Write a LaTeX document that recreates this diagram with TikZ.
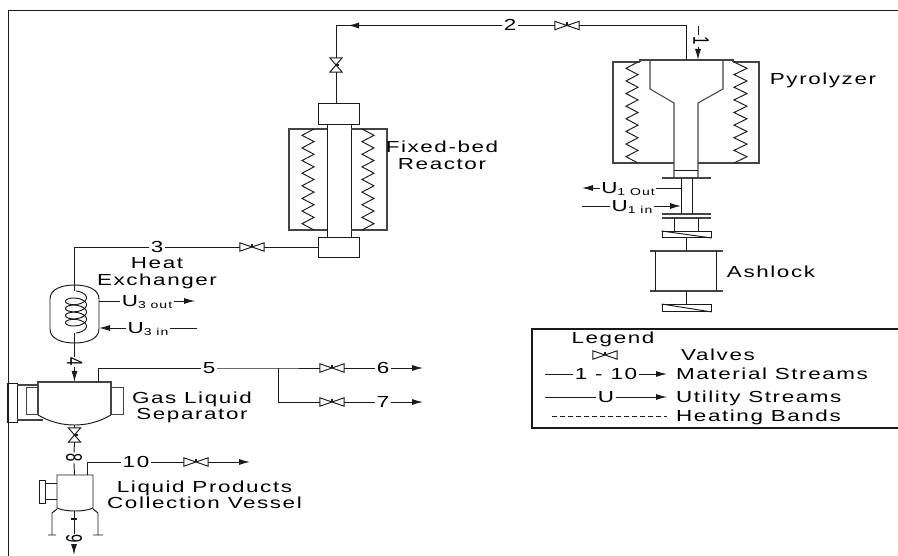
\documentclass[tikz,border=0pt]{standalone}
\usepackage{fontspec}
\usepackage{graphicx}
\usetikzlibrary{arrows.meta}
\setmainfont[FakeStretch=1.4,LetterSpace=10]{Liberation Sans}
\newfontfamily\plainf{Liberation Sans}
\definecolor{ink}{HTML}{1A1A1A}
\definecolor{wallgrey}{HTML}{444444}
\newcommand{\lowsub}[1]{\raisebox{-2.5pt}{\fontsize{10}{10}\selectfont #1}}
\newcommand{\sidenum}[1]{\scalebox{1.5}[1]{\rotatebox{-90}{\plainf\fontsize{15}{15}\selectfont #1}}}
\tikzset{
  line/.style={draw=ink,line width=0.95pt},
  wall/.style={draw=wallgrey,line width=1.05pt},
  flange/.style={draw=wallgrey,line width=2.4pt},
  arrowed/.style={line,-{Latex[length=11pt,width=6pt]}},
  stream/.style={inner sep=1.5pt,text height=11pt,text depth=0pt,font=\fontsize{16}{16}\selectfont,text=black},
  sidelabel/.style={inner sep=1pt,text=black},
  caption/.style={inner sep=0pt,anchor=base,font=\fontsize{16}{16}\selectfont,text=black},
  hv/.style={inner sep=0pt,minimum width=24pt,minimum height=8pt},
  vv/.style={inner sep=0pt,minimum width=12pt,minimum height=14pt},
  smallbox/.style={draw=ink,line width=0.95pt,inner sep=0pt}
}
% horizontal valve: node name, x, y
\newcommand{\hvalve}[3]{%
  \node[hv] (#1) at (#2,#3) {};
  \draw[line] (#1.north west) -- (#1.south east) -- (#1.north east) -- (#1.south west) -- cycle;
  \draw[line width=1.6pt,ink] (#1.center) -- ++(0,-3);
}
% vertical valve: node name, x, y
\newcommand{\vvalve}[3]{%
  \node[vv] (#1) at (#2,#3) {};
  \draw[line] (#1.north west) -- (#1.north east) -- (#1.south west) -- (#1.south east) -- cycle;
  \draw[line width=1.6pt,ink] (#1.center) -- ++(3,0);
}
% zigzag: start x, other x, top y, bottom y, segments (even)
\newcommand{\zigzag}[5]{%
  \draw[line] (#1,#3)
  \foreach \i in {1,...,#5} {
    -- ({ifthenelse(isodd(\i),#2,#1)},{#3+(#4-#3)*\i/#5})
  };
}
% screw feeder box: name, y top, y bottom
\newcommand{\feeder}[3]{%
  \node[smallbox,minimum width=49pt,minimum height={#3-#2},anchor=north] (#1) at (686.5,#2) {};
  \draw[line] (#1.north west) -- (#1.south east);
}
\begin{document}
\begin{tikzpicture}[x=1pt,y=-1pt]
\useasboundingbox (0,0) rectangle (898,556);
% frame
\draw[line] (8,556) -- (8,10.5) -- (898,10.5);

% ---------- Pyrolyzer
\draw[wall] (640,62) -- (613,62) -- (613,163) -- (674,163);
\draw[wall] (698,163) -- (759,163) -- (759,62) -- (733,62);
\draw[wall] (640,62) -- (640,60) -- (733,60) -- (733,62);
\draw[wall] (650,60) -- (650,89) -- (674,103) -- (674,178);
\draw[wall] (723,60) -- (723,89) -- (698,103) -- (698,178);
\draw[line] (674,170) -- (698,170);
\zigzag{638}{626}{62}{163}{16}
\zigzag{734}{747}{62}{163}{16}
\coordinate (lidtop) at (686,60);
\coordinate (feedtop) at (698,26);
\coordinate (feedlid) at (698,60);
\node[sidelabel] (l1) at (701,41) {\sidenum{1}};
\draw[line] (feedtop) -- (698,35);
\draw[arrowed] (698,47) -- (feedlid);
\node[caption] at (823,85) {Pyrolyzer};

% flanges and stem
\draw[flange] (662,178) -- (711,178);
\draw[flange] (662,214) -- (711,214);
\draw[wall] (662,218) -- (711,218);
\draw[line] (681,178) -- (681,214);
\draw[line] (692,178) -- (692,214);
\draw[line] (674,218) -- (674,231);
\draw[line] (698,218) -- (698,231);
\coordinate (u1oj) at (681,188);
\coordinate (u1ij) at (681,206);
\node[stream] (u1o) at (628,188) {U\lowsub{1 Out}};
\node[stream] (u1i) at (632,206) {U\lowsub{1 in}};
\coordinate (u1oend) at (582,188);
\coordinate (u1istart) at (582,206);
\draw[line] (u1oj) -- (u1o.east);
\draw[arrowed] (u1o.west) -- (u1oend);
\draw[line] (u1istart) -- (u1i.west);
\draw[arrowed] (u1i.east) -- (u1ij);

% ashlock
\feeder{fa}{231}{237}
\feeder{fb}{304}{311}
\draw[wall] (650,251) -- (723,251);
\draw[wall] (650,291) -- (723,291);
\draw[line] (655,251) -- (655,291);
\draw[line] (716,251) -- (716,291);
\draw[line] (fa.south) -- (686.5,251);
\draw[line] (686.5,291) -- (fb.north);
\node[caption] at (771,278) {Ashlock};

% ---------- Stream 2
\node[stream] (l2) at (510,25.5) {2};
\hvalve{v2}{567}{25.5}
\vvalve{v2b}{336}{65}
\coordinate (arrow2) at (348,25.5);
\coordinate (arrow2s) at (372,25.5);
\coordinate (corner2) at (336,25.5);
\draw[line] (lidtop) -- (686,25.5) -- (v2.east);
\draw[line] (v2.west) -- (l2.east);
\draw[line] (l2.west) -- (corner2) -- (v2b.north);
\draw[arrowed] (arrow2s) -- (arrow2);

% ---------- Fixed-bed reactor
\node[smallbox,minimum width=41pt,minimum height=21pt] (fbtop) at (338.5,113.5) {};
\node[smallbox,minimum width=41pt,minimum height=20pt] (fbbot) at (338.5,247) {};
\node[smallbox,minimum width=24pt,minimum height=113pt] (fbtube) at (339,180.5) {};
\draw[wall] (327,129) -- (289,129) -- (289,230) -- (327,230);
\draw[wall] (351,129) -- (387,129) -- (387,230) -- (351,230);
\zigzag{314}{302}{129}{230}{16}
\zigzag{362}{374}{129}{230}{16}
\draw[line] (v2b.south) -- (fbtop.north -| v2b.south);
\node[caption] at (442,153) {Fixed-bed};
\node[caption] at (442,170) {Reactor};

% ---------- Stream 3
\node[stream] (l3) at (157,247) {3};
\hvalve{v3}{252}{247}
\coordinate (coiltop) at (74,291);
\draw[line] (fbbot.west) -- (v3.east);
\draw[line] (v3.west) -- (l3.east);
\draw[line] (l3.west) -- (74,247) -- (coiltop);

% ---------- Heat exchanger
\node[caption] at (157,269) {Heat};
\node[caption] at (157,286) {Exchanger};
\draw[line] (50,299) .. controls (50,289) and (62,285) .. (74.5,285) .. controls (87,285) and (99,289) .. (99,299)
  -- (99,329) .. controls (99,339) and (87,343) .. (74.5,343) .. controls (62,343) and (50,339) .. (50,329) -- cycle;
\draw[line] plot[smooth,samples=109,domain=0:1620,variable=\t]
  ({76+10.5*sin(\t)},{296+\t/1620*32-5*cos(\t)});
\coordinate (hxout) at (99,301);
\coordinate (hxin) at (99,328);
\coordinate (u3oend) at (195,301);
\coordinate (u3istart) at (197,328);
\node[stream] (u3o) at (147,301) {U\lowsub{3 out}};
\node[stream] (u3i) at (148,328) {U\lowsub{3 in}};
\draw[line] (hxout) -- (u3o.west);
\draw[arrowed] (u3o.east) -- (u3oend);
\draw[line] (u3istart) -- (u3i.east);
\draw[arrowed] (u3i.west) -- (hxin);

% ---------- Stream 4
\node[sidelabel] (l4) at (74.5,362) {\sidenum{4}};
\coordinate (sepin) at (74.5,382);
\coordinate (coilbot) at (74.5,333);
\draw[line] (coilbot) -- (l4.north);
\draw[arrowed] (l4.south) -- (sepin);

% ---------- Gas liquid separator
\draw[wall] (38,415) -- (38,382) -- (111,382) -- (111,415);
\draw[line] (38,415) .. controls (50,422) and (62,425) .. (74.5,425) .. controls (87,425) and (99,422) .. (111,415);
\node[smallbox,draw=wallgrey,minimum width=12pt,minimum height=27pt] (nozl) at (32,400.5) {};
\node[smallbox,draw=wallgrey,minimum width=12pt,minimum height=27pt] (nozr) at (117,400.5) {};
\node[smallbox,minimum width=10pt,minimum height=39pt] (sepfl) at (12,402.5) {};
\draw[wall] (17,385) -- (38,385);
\draw[wall] (17,420) -- (43,420);
\node[caption] at (192,403) {Gas Liquid};
\node[caption] at (192,420) {Separator};

% ---------- Streams 5, 6, 7
\node[stream] (l5) at (209,368) {5};
\node[stream] (l6) at (383,368) {6};
\node[stream] (l7) at (383,402) {7};
\hvalve{v6}{332}{368}
\hvalve{v7}{332}{402}
\coordinate (sepout) at (98,382);
\coordinate (branch) at (278,368);
\coordinate (end6) at (423,368);
\coordinate (end7) at (423,402);
\draw[line] (sepout) -- (98,368) -- (l5.west);
\draw[line] (l5.east) -- (branch) -- (v6.west);
\draw[line] (v6.east) -- (l6.west);
\draw[arrowed] (l6.east) -- (end6);
\draw[line] (branch) -- (278,402) -- (v7.west);
\draw[line] (v7.east) -- (l7.west);
\draw[arrowed] (l7.east) -- (end7);

% ---------- Stream 8
\vvalve{v8}{74.5}{435}
\node[sidelabel] (l8) at (74,458) {\sidenum{8}};
\coordinate (sepbot) at (74.5,425);
\coordinate (coltop) at (74.5,475);
\draw[line] (sepbot) -- (v8.north);
\draw[line] (v8.south) -- (l8.north);
\draw[line] (l8.south) -- (coltop);

% ---------- Liquid collection vessel
\draw[line] (57,475) -- (93,475) -- (93,508) .. controls (85,512) and (65,512) .. (57,508) -- cycle;
\node[smallbox,minimum width=6pt,minimum height=23pt] (colfl) at (42,491.5) {};
\draw[line] (45,483) -- (57,483) (45,499) -- (57,499);
\draw[line] (57,509) -- (52,513) -- (52,535) (48,535) -- (56,535);
\draw[line] (93,509) -- (98,513) -- (98,535) (93,535) -- (103,535);
\node[caption] at (204.5,492) {Liquid Products};
\node[caption] at (204.5,508) {Collection Vessel};

% ---------- Stream 9
\coordinate (colbot) at (74,511);
\coordinate (end9) at (74,555);
\node[sidelabel] (l9) at (74,539) {\sidenum{9}};
\draw[line] (colbot) -- (l9.north);
\draw[arrowed] (l9.south) -- (end9);
\draw[line width=1.8pt,ink] (71,519) -- (77,519);

% ---------- Stream 10
\node[stream] (l10) at (136,462) {10};
\hvalve{v10}{196}{462}
\coordinate (colout) at (87,475);
\coordinate (end10) at (250,462);
\draw[line] (colout) -- (87,462) -- (l10.west);
\draw[line] (l10.east) -- (v10.west);
\draw[arrowed] (v10.east) -- (end10);

% ---------- Legend
\draw[draw=ink,line width=1.05pt] (899,329) -- (532,329) -- (532,428) -- (899,428);
\node[caption] at (613,344) {Legend};
\hvalve{vl}{605}{355}
\node[caption] at (718,361) {Valves};
\coordinate (ms1) at (545,374);
\coordinate (ms2) at (667,374);
\node[stream] (lm) at (606,374) {1 - 10};
\draw[line] (ms1) -- (lm.west);
\draw[arrowed] (lm.east) -- (ms2);
\node[caption,anchor=base west] at (676,379.5) {Material Streams};
\coordinate (us1) at (545,397);
\coordinate (us2) at (667,397);
\node[stream] (lu) at (606,397) {U};
\draw[line] (us1) -- (lu.west);
\draw[arrowed] (lu.east) -- (us2);
\node[caption,anchor=base west] at (676,402.5) {Utility Streams};
\coordinate (hb1) at (552,416);
\coordinate (hb2) at (667,416);
\draw[line,dash pattern=on 5pt off 3pt] (hb1) -- (hb2);
\node[caption,anchor=base west] at (676,421.5) {Heating Bands};
\end{tikzpicture}
\end{document}
